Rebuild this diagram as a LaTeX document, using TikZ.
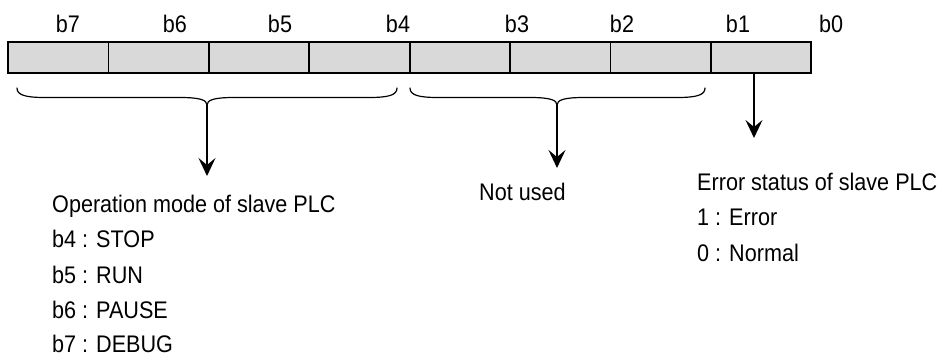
\documentclass[tikz,border=0pt]{standalone}
\usepackage{fontspec}
\setmainfont{Liberation Sans}[FakeStretch=0.9]
\usetikzlibrary{arrows.meta}
\definecolor{cellgray}{HTML}{D9D9D9}
\tikzset{
  cell/.style={draw=black, fill=cellgray, line width=1.8pt, minimum width=100.4pt, minimum height=31pt, inner sep=0pt, outer sep=0pt},
  bitlabel/.style={anchor=base, inner sep=0pt, font=\fontsize{24}{28}\selectfont},
  txt/.style={anchor=base west, inner sep=0pt, text depth=0pt, font=\fontsize{24}{28}\selectfont},
  bracestyle/.style={line width=1.2pt, line cap=round},
  arr/.style={line width=1.6pt, -{Stealth[length=18pt,width=17pt,inset=7pt]}}
}
\begin{document}
\begin{tikzpicture}[x=1pt,y=-1pt]
\useasboundingbox (0,0) rectangle (944,356);
% cells
\foreach \i/\n in {0/c7,1/c6,2/c5,3/c4,4/c3,5/c2,6/c1,7/c0} {
  \node[cell] (\n) at ({8+100.4*\i+50.2},57.5) {};
}
% bit labels
\node[bitlabel] (l7) at (68,32) {b7};
\node[bitlabel] (l6) at (175,32) {b6};
\node[bitlabel] (l5) at (280,32) {b5};
\node[bitlabel] (l4) at (398,32) {b4};
\node[bitlabel] (l3) at (517,32) {b3};
\node[bitlabel] (l2) at (622,32) {b2};
\node[bitlabel] (l1) at (738,32) {b1};
\node[bitlabel] (l0) at (831,32) {b0};
% braces
\coordinate (t1) at (207,105);
\coordinate (t2) at (557,105);
\draw[bracestyle] (17,88) .. controls (17,95) and (25,97.5) .. (45,97.5) -- (180,97.5)
   .. controls (200,97.5) and (207,100) .. (t1)
   .. controls (207,100) and (214,97.5) .. (234,97.5) -- (369,97.5)
   .. controls (389,97.5) and (397,95) .. (397,88);
\draw[bracestyle] (410,88) .. controls (410,95) and (418,97.5) .. (438,97.5) -- (530,97.5)
   .. controls (550,97.5) and (557,100) .. (t2)
   .. controls (557,100) and (564,97.5) .. (584,97.5) -- (677,97.5)
   .. controls (697,97.5) and (705,95) .. (705,88);
% arrows
\coordinate (a1) at (207,176);
\coordinate (a2) at (557,168);
\coordinate (a3) at (754,138);
\draw[arr] (t1) -- (a1);
\draw[arr] (t2) -- (a2);
\draw[arr] (c0.south -| a3) -- (a3);
% texts
\node[txt] (op0) at (52,212) {Operation mode of slave PLC};
\node[txt] (op1) at (52,247.5) {b4 : STOP};
\node[txt] (op2) at (52,283) {b5 : RUN};
\node[txt] (op3) at (52,318.5) {b6 : PAUSE};
\node[txt] (op4) at (52,352.5) {b7 : DEBUG};
\node[txt] (nu) at (479,200) {Not used};
\node[txt] (er0) at (697,190) {Error status of slave PLC};
\node[txt] (er1) at (697,225.7) {1 : Error};
\node[txt] (er2) at (697,261.7) {0 : Normal};
\end{tikzpicture}
\end{document}
